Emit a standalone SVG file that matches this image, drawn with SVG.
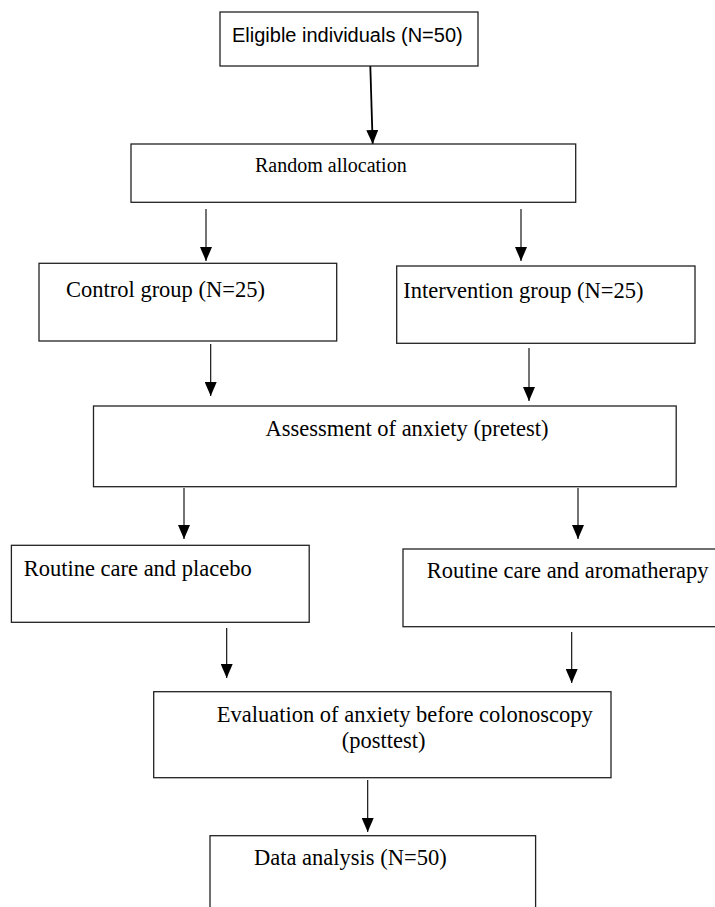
<svg xmlns="http://www.w3.org/2000/svg" width="715" height="907" viewBox="0 0 715 907">
<style>
.box{fill:#fff;stroke:#222;stroke-width:1.3}
.t{font-family:"Liberation Serif","Times New Roman",serif;font-size:22.5px;fill:#000}
.s{font-family:"Liberation Sans",Arial,sans-serif;font-size:20px;fill:#000}
.c{stroke:#000;stroke-width:1.1;fill:none;marker-end:url(#ah)}
</style>
<defs>
<marker id="ah" viewBox="0 0 14 12" markerWidth="14" markerHeight="12" refX="14" refY="6" orient="auto" markerUnits="userSpaceOnUse">
<path d="M0,0 L14,6 L0,12 z" fill="#000"/>
</marker>
</defs>
<rect width="715" height="907" fill="#fff"/>
<g id="connectors">
<line class="c" x1="370.3" y1="66" x2="372.7" y2="144" style="stroke-width:1.8"/>
<line class="c" x1="206" y1="209" x2="206" y2="261"/>
<line class="c" x1="521" y1="209" x2="521" y2="261"/>
<line class="c" x1="210.7" y1="344" x2="210.7" y2="396"/>
<line class="c" x1="529" y1="348" x2="529" y2="401"/>
<line class="c" x1="184" y1="488" x2="184" y2="539"/>
<line class="c" x1="578" y1="488" x2="578" y2="539"/>
<line class="c" x1="226.7" y1="628" x2="226.7" y2="678"/>
<line class="c" x1="571.7" y1="632" x2="571.7" y2="683"/>
<line class="c" x1="367.7" y1="780" x2="367.7" y2="832"/>
</g>
<g id="eligible">
<rect class="box" x="220" y="12" width="258" height="54"/>
<text class="s" x="232" y="42">Eligible individuals (N=50)</text>
</g>
<g id="random">
<rect class="box" x="131" y="144" width="444.7" height="58.3"/>
<text class="t" x="255" y="172" style="font-size:20px">Random allocation</text>
</g>
<g id="control">
<rect class="box" x="39" y="263.3" width="297.7" height="77.7"/>
<text class="t" x="66" y="296.7">Control group (N=25)</text>
</g>
<g id="intervention">
<rect class="box" x="396.7" y="266" width="298.3" height="77.3"/>
<text class="t" x="403.3" y="298.3">Intervention group (N=25)</text>
</g>
<g id="pretest">
<rect class="box" x="93.5" y="406" width="582.7" height="80.7"/>
<text class="t" x="265.4" y="436">Assessment of anxiety (pretest)</text>
</g>
<g id="placebo">
<rect class="box" x="11.4" y="545.3" width="297.8" height="77"/>
<text class="t" x="23.7" y="575.7">Routine care and placebo</text>
</g>
<g id="aromatherapy">
<rect class="box" x="403" y="549" width="320" height="77.7"/>
<text class="t" x="426.7" y="578.3">Routine care and aromatherapy</text>
</g>
<g id="posttest">
<rect class="box" x="153.7" y="691.7" width="457.3" height="86"/>
<text class="t" x="216.7" y="721.7">Evaluation of anxiety before colonoscopy</text>
<text class="t" x="341.7" y="748">(posttest)</text>
</g>
<g id="analysis">
<rect class="box" x="210" y="835.7" width="325.6" height="90"/>
<text class="t" x="254" y="865">Data analysis (N=50)</text>
</g>
</svg>
